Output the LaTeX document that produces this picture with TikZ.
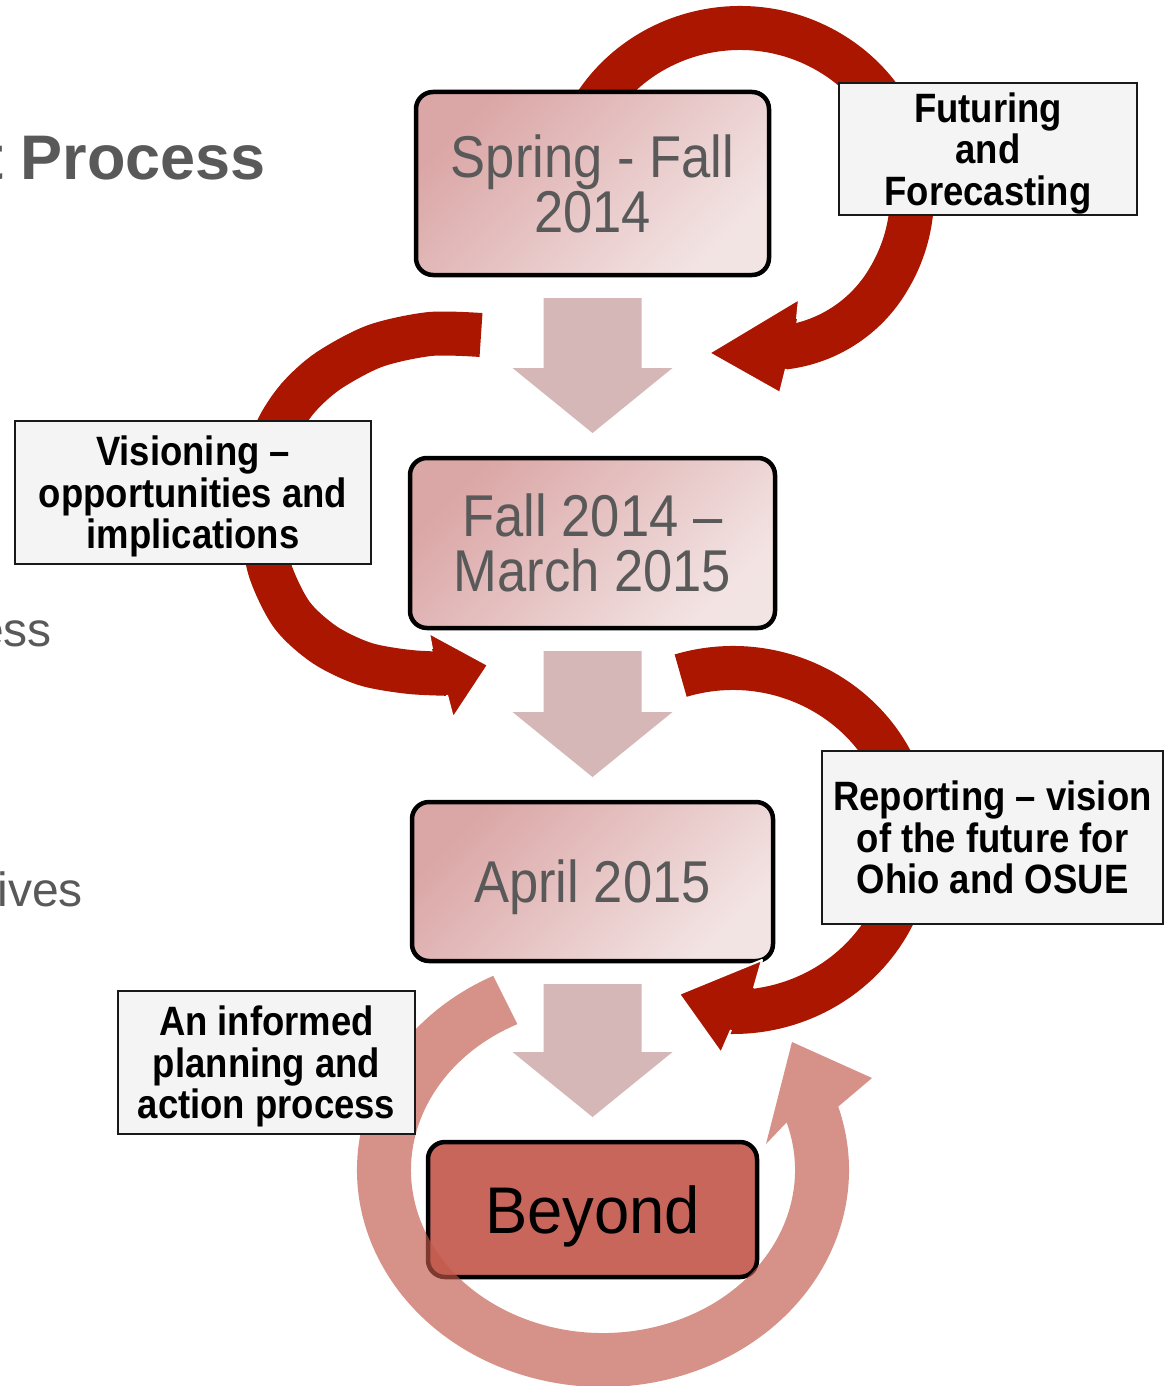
\documentclass[tikz,border=0pt]{standalone}
\usepackage{fontspec}
\setmainfont{Liberation Sans}
\newfontfamily\boxfont[FakeStretch=0.89]{Liberation Sans}
\newfontfamily\beyfont[FakeStretch=0.96]{Liberation Sans}
\newfontfamily\labfont[FakeStretch=0.89]{Liberation Sans}
\usetikzlibrary{calc}
\definecolor{arrowred}{RGB}{170,22,0}
\definecolor{ringpink}{RGB}{193,89,73}
\definecolor{blockpink}{RGB}{213,183,183}
\definecolor{boxtl}{RGB}{219,166,166}
\definecolor{boxbr}{RGB}{243,228,228}
\definecolor{beyondfill}{RGB}{200,102,92}
\definecolor{labelfill}{RGB}{244,244,244}
\definecolor{textgray}{RGB}{89,89,89}
\newcommand\blockdown[2]{%
  \fill[blockpink] let \p1=(#1.south), \p2=(#2.north) in
    (\x1-49pt,\y1-23pt) -- (\x1+49pt,\y1-23pt) -- (\x1+49pt,\y2+90pt)
    -- (\x1+80pt,\y2+90pt) -- (\x1,\y2+25pt) -- (\x1-80pt,\y2+90pt)
    -- (\x1-49pt,\y2+90pt) -- cycle;}
\begin{document}
\begin{tikzpicture}[x=1pt,y=-1pt,
  stage/.style={draw=black, line width=4.5pt, rounded corners=17pt, outer sep=0pt,
    top color=boxtl, bottom color=boxbr, shading angle=45, inner sep=0pt,
    align=center, text=textgray, font=\boxfont\fontsize{59}{55}\selectfont},
  lab/.style={draw=black!90, line width=2pt, fill=labelfill, inner sep=0pt,
    align=center, text=black, text depth=0pt,
    font=\labfont\bfseries\fontsize{41}{41.5}\selectfont},
  band/.style={draw=arrowred, line width=44pt},
  head/.style={fill=arrowred},
  headrim/.style={draw=white, line width=2pt, line join=round},
  frag/.style={anchor=base east, inner sep=0pt, text=textgray}]
\fill[white] (0,0) rectangle (1169,1386);
\useasboundingbox (0,0) rectangle (1169,1386);
\clip (0,0) rectangle (1169,1386);

% slide text fragments
\node[frag, font=\bfseries\fontsize{63}{63}\selectfont] (title) at (266,179) {t Process};
\node[frag, font=\fontsize{48}{48}\selectfont] (frag1) at (52,646) {ess};
\node[frag, font=\fontsize{48}{48}\selectfont] (frag2) at (83,906) {ives};

% red curved bands
\coordinate (c1) at (740,195);
\draw[band] (c1) ++(210:172 and 167)
  arc[start angle=210, end angle=390, x radius=172, y radius=167]
  arc[start angle=30, end angle=85, radius=140];
\draw[band] plot[smooth] coordinates {(481,335) (430,334) (375,346) (328,371) (298,398) (277,430) (265,470) (262,520) (270,570) (292,615) (325,645) (365,664) (410,672) (455,674)};
\coordinate (c3) at (733,840);
\draw[band] (c3) ++(252.9:178 and 172)
  arc[start angle=252.9, end angle=452, x radius=178, y radius=172];

% stage boxes
\node[stage] (b1) at (592.5,183.5) [minimum width=353pt, minimum height=183pt] {Spring - Fall\\2014};
\node[stage] (b2) at (592.5,543) [minimum width=365pt, minimum height=170pt] {Fall 2014 –\\March 2015};
\node[stage, text depth=0pt] (b3) at (592.5,881.5) [minimum width=361pt, minimum height=159pt] {April 2015};
\node[draw=black, line width=4.5pt, rounded corners=17pt, outer sep=0pt, fill=beyondfill,
  inner sep=0pt, text=black, text depth=0pt, font=\beyfont\fontsize{66}{66}\selectfont,
  minimum width=329pt, minimum height=135pt] (b4) at (592.5,1209.5) {Beyond};

% block arrows between stages
\blockdown{b1}{b2}
\blockdown{b2}{b3}
\blockdown{b3}{b4}

% red arrow heads
\fill[head] (797,319) -- (799,299) -- (709,353) -- (780,393) -- (786,369) -- cycle;
\draw[headrim] (797,319) -- (799,299) -- (709,353) -- (780,393) -- (786,369);
\fill[head] (432,649) -- (429,633) -- (488,665) -- (453,718) -- (447,695) -- cycle;
\draw[headrim] (432,649) -- (429,633) -- (488,665) -- (453,718) -- (447,695);
\fill[head] (754,988) -- (762,960) -- (679,994) -- (721,1053) -- (731,1030) -- cycle;
\draw[headrim] (754,988) -- (762,960) -- (679,994) -- (721,1053) -- (731,1030);

% pink ring arrow
\coordinate (pc) at (603,1170);
\fill[ringpink, fill opacity=0.65]
  ($(pc)+(243.5:246 and 217)$) arc[start angle=243.5, end angle=-17, x radius=246, y radius=217]
  -- (872,1078) -- (792,1042) -- (766,1144)
  -- ($(pc)+(-17:192 and 163)$) arc[start angle=-17, end angle=243.5, x radius=192, y radius=163]
  -- cycle;

% labels
\node[lab, minimum width=298pt, minimum height=132pt] (l1) at (988,149) {Futuring\\and\\Forecasting};
\node[lab, minimum width=356pt, minimum height=143pt] (l2) at (193,492.5) {Visioning –\\opportunities and\\implications};
\node[lab, minimum width=341pt, minimum height=173pt] (l3) at (992.5,837.5) {Reporting – vision\\of the future for\\Ohio and OSUE};
\node[lab, minimum width=297pt, minimum height=143pt] (l4) at (266.5,1062.5) {An informed\\planning and\\action process};
\end{tikzpicture}
\end{document}
